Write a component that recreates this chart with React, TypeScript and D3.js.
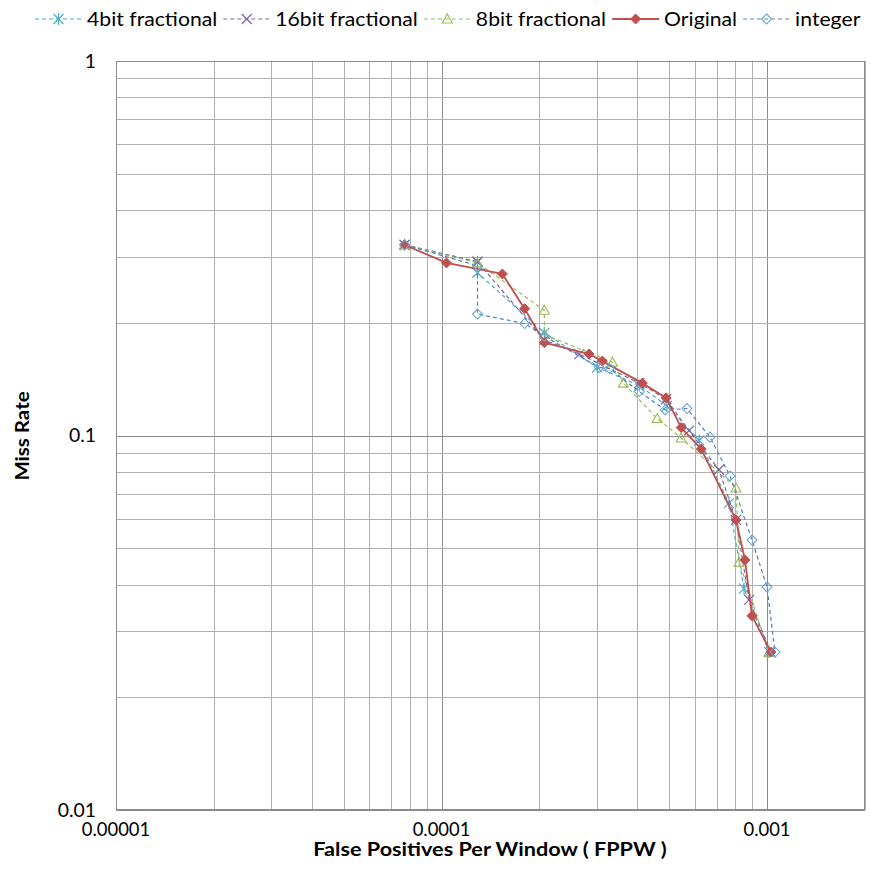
import React, { useEffect, useRef } from 'react';
import * as d3 from 'd3';

// values (FPPW on x, miss rate on y)
const seriesNames = ['4bit fractional', '16bit fractional', '8bit fractional', 'Original', 'integer'];

const fppw4bit = [7.7e-5, 1.29e-4, 1.29e-4, 2.07e-4, 3.01e-4, 4.05e-4, 4.93e-4, 6.19e-4, 7.64e-4, 8.5e-4, 1.014e-3];
const miss4bit = [0.323, 0.291, 0.272, 0.188, 0.152, 0.136, 0.12, 0.097, 0.066, 0.039, 0.0264];

const fppw16bit = [7.7e-5, 1.29e-4, 2.07e-4, 2.65e-4, 4.05e-4, 4.9e-4, 5.76e-4, 7.12e-4, 8.03e-4, 8.81e-4, 1.028e-3];
const miss16bit = [0.323, 0.291, 0.18, 0.165, 0.138, 0.125, 0.103, 0.081, 0.0595, 0.0364, 0.0264];

const fppw8bit = [7.7e-5, 1.29e-4, 2.07e-4, 2.07e-4, 3.35e-4, 3.62e-4, 4.6e-4, 5.45e-4, 8.03e-4, 8.21e-4, 1.014e-3];
const miss8bit = [0.323, 0.289, 0.216, 0.186, 0.157, 0.138, 0.111, 0.0985, 0.0724, 0.0459, 0.0264];

const fppwOriginal = [7.7e-5, 1.036e-4, 1.538e-4, 1.8e-4, 2.07e-4, 2.84e-4, 3.12e-4, 4.14e-4, 4.9e-4, 5.45e-4, 6.28e-4, 8.03e-4, 8.56e-4, 8.99e-4, 1.028e-3];
const missOriginal = [0.323, 0.289, 0.27, 0.218, 0.177, 0.165, 0.158, 0.138, 0.126, 0.105, 0.092, 0.0595, 0.0465, 0.033, 0.0264];

const fppwInteger = [7.7e-5, 1.29e-4, 1.29e-4, 1.8e-4, 2.07e-4, 3.05e-4, 3.28e-4, 4.05e-4, 4.87e-4, 5.68e-4, 6.68e-4, 7.7e-4, 8.99e-4, 1.0e-3, 1.058e-3];
const missInteger = [0.323, 0.284, 0.211, 0.199, 0.184, 0.152, 0.151, 0.131, 0.117, 0.118, 0.099, 0.078, 0.0526, 0.0394, 0.0264];

const xTickValues = [1e-5, 1e-4, 1e-3];
const xTickLabels = ['0.00001', '0.0001', '0.001'];
const yTickValues = [0.01, 0.1, 1];
const yTickLabels = ['0.01', '0.1', '1'];

const W = 871, H = 894;
const FONT = 'Lato, "Open Sans", sans-serif';

const styles = [
  { color: '#4bacc6', dash: '4,3', width: 1.2, marker: 'star' },
  { color: '#8064a2', dash: '4,3', width: 1.2, marker: 'x' },
  { color: '#9bbb59', dash: '4,3', width: 1.2, marker: 'triangle' },
  { color: '#c0504d', dash: null, width: 1.8, marker: 'diamond' },
  { color: '#4f81bd', dash: '4,3', width: 1.2, marker: 'odiamond' },
];

function addMarker(g, kind, color, cx, cy) {
  const r = 5;
  if (kind === 'star') {
    g.append('path')
      .attr('d', `M${-r},${-r}L${r},${r}M${-r},${r}L${r},${-r}M0,${-r - 1}L0,${r + 1}`)
      .attr('transform', `translate(${cx},${cy})`)
      .attr('stroke', color).attr('stroke-width', 1.2).attr('fill', 'none');
  } else if (kind === 'x') {
    g.append('path')
      .attr('d', `M${-r},${-r}L${r},${r}M${-r},${r}L${r},${-r}`)
      .attr('transform', `translate(${cx},${cy})`)
      .attr('stroke', color).attr('stroke-width', 1.2).attr('fill', 'none');
  } else if (kind === 'triangle') {
    g.append('path')
      .attr('d', `M0,${-r}L${r},${r * 0.8}L${-r},${r * 0.8}Z`)
      .attr('transform', `translate(${cx},${cy})`)
      .attr('stroke', color).attr('stroke-width', 1.1).attr('fill', 'none');
  } else if (kind === 'diamond') {
    g.append('path')
      .attr('d', `M0,${-r}L${r},0L0,${r}L${-r},0Z`)
      .attr('transform', `translate(${cx},${cy})`)
      .attr('fill', color).attr('stroke', color).attr('stroke-width', 1);
  } else {
    g.append('path')
      .attr('d', `M0,${-r}L${r},0L0,${r}L${-r},0Z`)
      .attr('transform', `translate(${cx},${cy})`)
      .attr('fill', 'none').attr('stroke', '#6fa8d8').attr('stroke-width', 1.1);
  }
}

export default function App() {
  const ref = useRef(null);

  useEffect(() => {
    const svg = d3.select(ref.current);
    svg.selectAll('*').remove();

    const x = d3.scaleLog().domain([1e-5, 2e-3]).range([116, 865]);
    const y = d3.scaleLog().domain([0.01, 1]).range([810, 61]);

    svg.append('rect').attr('width', W).attr('height', H).attr('fill', '#ffffff');

    // grid
    const grid = svg.append('g');
    const isMajor = (v) => Math.abs(Math.log10(v) - Math.round(Math.log10(v))) < 1e-9;
    x.ticks().forEach((v) => {
      const px = Math.round(x(v)) + 0.5;
      grid.append('line')
        .attr('x1', px).attr('x2', px).attr('y1', 61).attr('y2', 810)
        .attr('stroke', isMajor(v) ? '#8c8c8c' : '#b0b0b0').attr('stroke-width', 1);
    });
    y.ticks().forEach((v) => {
      const py = Math.round(y(v)) + 0.5;
      grid.append('line')
        .attr('x1', 116).attr('x2', 865).attr('y1', py).attr('y2', py)
        .attr('stroke', isMajor(v) ? '#8c8c8c' : '#b0b0b0').attr('stroke-width', 1);
    });
    svg.append('rect')
      .attr('x', 116.5).attr('y', 61.5).attr('width', 748).attr('height', 748)
      .attr('fill', 'none').attr('stroke', '#8c8c8c');

    // sx stretches along the reading direction
    const label = (parent, tx, ty, str, anchor, size, weight, sx = 1, rotate = 0) =>
      parent.append('text')
        .attr('transform', `translate(${tx},${ty}) rotate(${rotate}) scale(${sx},1)`)
        .attr('text-anchor', anchor)
        .attr('dy', '0.35em')
        .style('font-family', FONT)
        .style('font-size', `${size}px`)
        .style('font-weight', weight)
        .attr('fill', '#000')
        .text(str);

    // tick labels
    xTickValues.forEach((v, i) => label(svg, x(v), 829, xTickLabels[i], 'middle', 19, 400, 0.97));
    yTickValues.forEach((v, i) => label(svg, 96, y(v), yTickLabels[i], 'end', 19, 400, 1.02));

    // axis titles
    label(svg, 490, 849, 'False Positives Per Window ( FPPW )', 'middle', 19, 700, 1.14);
    label(svg, 22, 436, 'Miss Rate', 'middle', 19, 700, 1.08, -90);

    // series
    const allX = [fppw4bit, fppw16bit, fppw8bit, fppwOriginal, fppwInteger];
    const allY = [miss4bit, miss16bit, miss8bit, missOriginal, missInteger];
    const line = d3.line().x((d) => x(d[0])).y((d) => y(d[1]));

    allX.forEach((xs, si) => {
      const st = styles[si];
      const pts = xs.map((v, i) => [v, allY[si][i]]);
      const g = svg.append('g');
      g.append('path')
        .attr('d', line(pts))
        .attr('fill', 'none')
        .attr('stroke', st.color)
        .attr('stroke-width', st.width)
        .attr('stroke-dasharray', st.dash)
        .attr('stroke-linejoin', 'round');
      pts.forEach((p) => addMarker(g, st.marker, st.color, x(p[0]), y(p[1])));
    });

    // legend
    const lg = svg.append('g');
    let lx = 35;
    const ly = 19;
    const legSx = 1.06;
    seriesNames.forEach((name, i) => {
      const st = styles[i];
      lg.append('line')
        .attr('x1', lx).attr('x2', lx + 47).attr('y1', ly).attr('y2', ly)
        .attr('stroke', st.color).attr('stroke-width', st.width)
        .attr('stroke-dasharray', st.dash);
      addMarker(lg, st.marker, st.color, lx + 23.5, ly);
      const t = label(lg, lx + 52, ly, name, 'start', 20, 400, legSx);
      const w = t.node().getComputedTextLength() * legSx;
      lx += 52 + w + 6;
    });
  }, []);

  return (
    <svg ref={ref} width={W} height={H} style={{ position: 'absolute', left: 0, top: 0 }}></svg>
  );
}
